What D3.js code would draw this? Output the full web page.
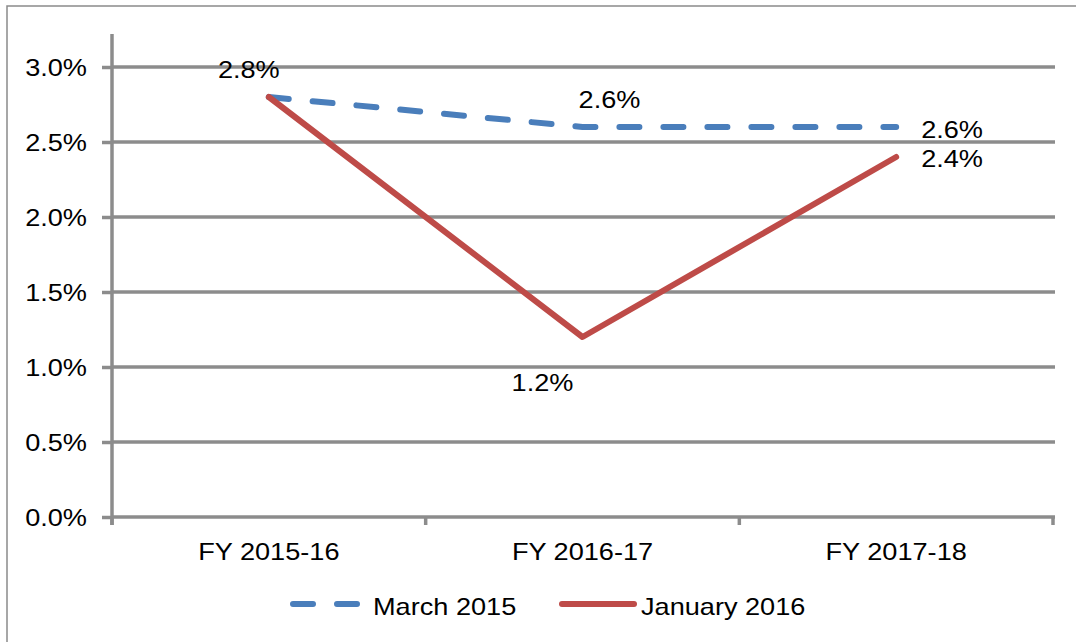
<!DOCTYPE html>
<html>
<head>
<meta charset="utf-8">
<script src="https://cdn.jsdelivr.net/npm/d3@7"></script>
<style>
  html, body { margin: 0; padding: 0; background: #fff; }
  svg { display: block; }
  text { font-family: "Liberation Sans", Arial, sans-serif; fill: #000; }
</style>
</head>
<body>
<svg id="chart" width="1076" height="642"></svg>
<script>
// ---- data ----
const categories = ["FY 2015-16", "FY 2016-17", "FY 2017-18"];
const march2015 = [2.8, 2.6, 2.6];
const january2016 = [2.8, 1.2, 2.4];
const seriesNames = ["March 2015", "January 2016"];
const yTicks = [0, 0.5, 1.0, 1.5, 2.0, 2.5, 3.0];

// ---- layout ----
const W = 1076, H = 642;
const plot = { left: 112, right: 1053, top: 34, bottom: 517 };
const SX = 1.18; // horizontal stretch of text
const fontSize = 23;
const gridColor = "#8c8c8c";
const blue = "#4a7ebb", red = "#be4b48";
const lw = 6;

const svg = d3.select("#chart");

// outer frame
svg.append("rect")
  .attr("x", 7).attr("y", 6)
  .attr("width", W + 20).attr("height", H + 20)
  .attr("fill", "none").attr("stroke", "#8a8a8a").attr("stroke-width", 1.5);

const y = d3.scaleLinear().domain([0, 3.22]).range([plot.bottom, plot.top]);
const band = d3.scaleBand().domain(categories).range([plot.left, plot.right]);
const x = d3.scalePoint().domain(categories).range([plot.left, plot.right]).padding(0.5);

// gridlines
svg.append("g").selectAll("line")
  .data(yTicks.filter(d => d > 0))
  .join("line")
  .attr("x1", plot.left).attr("x2", plot.right + 2)
  .attr("y1", d => y(d)).attr("y2", d => y(d))
  .attr("stroke", gridColor).attr("stroke-width", 3.5);

// y axis
const yAxis = svg.append("g")
  .attr("transform", `translate(${plot.left},0)`)
  .call(d3.axisLeft(y).tickValues(yTicks).tickSize(10).tickSizeOuter(0)
    .tickFormat(d => d.toFixed(1) + "%"));
yAxis.select(".domain").attr("stroke", gridColor).attr("stroke-width", 3.5)
  .attr("d", `M0,${plot.top}V${plot.bottom + 8}`);
yAxis.selectAll(".tick line").attr("stroke", gridColor).attr("stroke-width", 3.5);
yAxis.selectAll(".tick text")
  .attr("x", null).attr("dy", "0.35em")
  .attr("transform", `translate(-25,0) scale(${SX},1)`)
  .attr("text-anchor", "end")
  .style("font-size", fontSize + "px")
  .style("font-family", '"Liberation Sans", Arial, sans-serif')
  .attr("fill", "#000");

// x axis line
const xAxis = svg.append("g").attr("transform", `translate(0,${plot.bottom})`);
xAxis.append("line")
  .attr("x1", plot.left).attr("x2", plot.right + 2)
  .attr("y1", 0).attr("y2", 0)
  .attr("stroke", gridColor).attr("stroke-width", 3.5);
const tickPos = categories.map(c => band(c)).concat([band(categories[categories.length - 1]) + band.bandwidth()]);
xAxis.selectAll("line.tk").data(tickPos).join("line").attr("class", "tk")
  .attr("x1", d => d).attr("x2", d => d)
  .attr("y1", 0).attr("y2", 8)
  .attr("stroke", gridColor).attr("stroke-width", 3.5);
xAxis.selectAll("text").data(categories).join("text")
  .attr("transform", d => `translate(${x(d)},43) scale(${SX},1)`)
  .attr("text-anchor", "middle")
  .style("font-size", fontSize + "px")
  .text(d => d);

// lines
const line = d3.line().x((d, i) => x(categories[i])).y(d => y(d));

svg.append("path")
  .datum(march2015)
  .attr("d", line)
  .attr("fill", "none").attr("stroke", blue).attr("stroke-width", lw)
  .attr("stroke-dasharray", "20,24").attr("stroke-linecap", "round")
  .attr("stroke-linejoin", "round");

svg.append("path")
  .datum(january2016)
  .attr("d", line)
  .attr("fill", "none").attr("stroke", red).attr("stroke-width", lw)
  .attr("stroke-linecap", "round").attr("stroke-linejoin", "round");

// data labels (offsets relative to each point)
const labelOffsets = {
  march: [{ dx: -20, dy: -19, a: "middle" }, { dx: 27, dy: -19, a: "middle" }, { dx: 25, dy: 11, a: "start" }],
  jan: [null, { dx: -40, dy: 54, a: "middle" }, { dx: 25, dy: 10, a: "start" }]
};
function addLabels(values, offs) {
  values.forEach((v, i) => {
    const o = offs[i];
    if (!o) return;
    svg.append("text")
      .attr("transform", `translate(${x(categories[i]) + o.dx},${y(v) + o.dy}) scale(${SX},1)`)
      .attr("text-anchor", o.a)
      .style("font-size", fontSize + "px")
      .text(v.toFixed(1) + "%");
  });
}
addLabels(march2015, labelOffsets.march);
addLabels(january2016, labelOffsets.jan);

// legend
const legY = 604;
const leg = svg.append("g");
leg.append("line")
  .attr("x1", 293).attr("x2", 359).attr("y1", legY).attr("y2", legY)
  .attr("stroke", blue).attr("stroke-width", lw)
  .attr("stroke-dasharray", "20,24").attr("stroke-linecap", "round");
leg.append("text")
  .attr("transform", `translate(373,${legY + 11}) scale(${SX},1)`)
  .style("font-size", fontSize + "px")
  .text(seriesNames[0]);
leg.append("line")
  .attr("x1", 562).attr("x2", 634).attr("y1", legY).attr("y2", legY)
  .attr("stroke", red).attr("stroke-width", lw).attr("stroke-linecap", "round");
leg.append("text")
  .attr("transform", `translate(641,${legY + 11}) scale(${SX},1)`)
  .style("font-size", fontSize + "px")
  .text(seriesNames[1]);
</script>
</body>
</html>
